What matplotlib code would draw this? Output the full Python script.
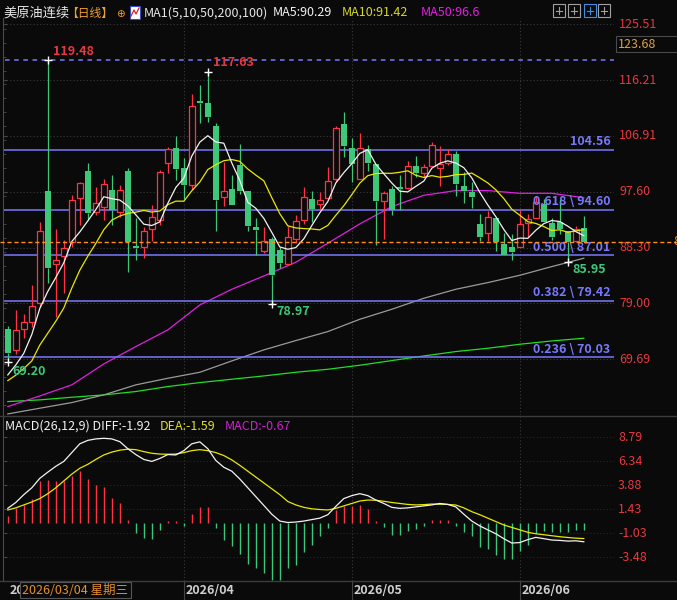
import numpy as np
import pandas as pd
import matplotlib.pyplot as plt
from matplotlib.transforms import blended_transform_factory
from matplotlib.patches import Rectangle
from matplotlib.lines import Line2D

plt.rcParams['font.family'] = ['Noto Sans CJK SC', 'DejaVu Sans']

# --- daily candles (index 0 = 2026/03/02) ---
opens = [74.75, 71.25, 74.69, 75.97, 79.02, 97.73, 85.52, 86.91, 89.24, 96.62,
         101.07, 94.29, 95.13, 97.90, 94.29, 101.07, 88.57, 88.35, 91.35, 92.90,
         102.45, 104.90, 101.57, 98.79, 112.73, 112.45, 108.56, 96.68, 98.07, 102.07,
         97.73, 91.68, 87.79, 89.68, 87.90, 85.57, 89.79, 92.90, 96.35, 95.51,
         96.51, 99.68, 108.89, 104.84, 99.68, 104.73, 102.18, 96.12, 98.07, 98.29,
         98.29, 101.90, 100.79, 101.90, 101.51, 102.45, 103.90, 98.57, 97.62, 92.29,
         90.79, 93.29, 88.90, 88.35, 88.35, 92.35, 93.29, 95.51, 92.46, 92.62,
         91.07, 89.35, 91.63]
highs = [75.25, 77.91, 77.24, 82.07, 92.57, 119.48, 91.40, 89.57, 97.07, 99.29,
         102.34, 98.46, 99.68, 100.40, 98.73, 101.57, 93.18, 91.68, 95.40, 101.23,
         105.01, 106.90, 103.18, 113.89, 115.39, 117.63, 109.12, 102.62, 100.40, 105.56,
         97.73, 93.18, 91.68, 90.13, 88.46, 91.90, 93.74, 98.46, 97.73, 97.51,
         101.79, 108.56, 110.95, 106.51, 107.34, 105.34, 102.18, 97.79, 98.57, 100.40,
         102.73, 103.57, 102.23, 105.90, 105.23, 104.67, 104.45, 100.95, 99.29, 93.96,
         94.46, 93.29, 90.79, 90.57, 94.57, 93.90, 96.90, 96.35, 93.29, 96.35,
         91.07, 91.90, 93.57]
lows = [69.20, 70.52, 73.30, 75.02, 78.47, 82.35, 76.80, 80.69, 88.46, 92.07,
        92.90, 93.74, 92.90, 92.07, 93.46, 84.30, 86.24, 86.52, 89.40, 92.07,
        100.68, 99.57, 96.35, 97.90, 109.01, 109.28, 91.13, 95.29, 95.46, 97.23,
        91.13, 87.07, 87.35, 78.97, 84.85, 85.57, 89.02, 92.24, 92.62, 94.57,
        96.35, 99.29, 103.34, 99.29, 99.68, 101.12, 88.74, 89.74, 93.74, 94.57,
        98.01, 100.12, 100.12, 101.79, 98.62, 102.07, 96.96, 95.79, 94.85, 89.35,
        89.46, 87.79, 87.07, 86.24, 88.35, 90.13, 93.29, 92.62, 89.57, 90.57,
        85.95, 89.24, 89.24]
closes = [70.80, 74.58, 75.86, 78.52, 91.02, 84.96, 86.18, 88.18, 96.18, 99.01,
          94.12, 95.68, 98.85, 94.57, 97.85, 89.30, 88.24, 91.02, 93.46, 100.84,
          104.73, 101.46, 98.79, 111.89, 112.45, 110.12, 96.23, 97.73, 95.46, 97.79,
          91.96, 91.29, 89.35, 83.74, 85.69, 90.02, 92.68, 96.68, 94.79, 96.29,
          99.34, 108.17, 105.29, 102.29, 104.84, 102.45, 96.07, 97.34, 94.57, 98.07,
          101.84, 100.68, 101.68, 105.34, 102.18, 103.84, 98.90, 97.79, 96.79, 90.13,
          93.35, 89.24, 87.07, 87.57, 92.18, 93.12, 95.96, 92.62, 90.13, 91.35,
          89.24, 91.46, 89.24]
# closes just before the visible window (for MA5 / MA10)
pre_closes = [65.5, 64.8, 65.9, 64.6, 65.1, 66.3, 66.1, 62.9, 69.3]

# slow averages read every 4th candle
ma_idx = list(range(0, 73, 4))
ma50 = [61.80, 63.58, 65.42, 68.91, 71.80, 74.58, 78.74, 81.35, 83.57, 85.85,
        89.02, 92.24, 95.13, 97.01, 97.79, 97.79, 97.34, 97.34, 96.60]
ma100 = [60.58, 61.53, 62.47, 63.75, 65.42, 66.52, 67.52, 69.41, 71.25, 72.80,
         74.30, 76.35, 78.02, 79.85, 81.35, 82.46, 83.68, 85.13, 86.52]
ma200 = [62.64, 62.92, 63.36, 63.75, 64.31, 65.14, 65.80, 66.36, 66.91, 67.52,
         68.02, 68.69, 69.47, 70.24, 70.97, 71.52, 72.19, 72.74, 73.19]

# MACD(26,12,9)
diff = [1.50, 2.1, 2.9, 3.6, 4.57, 5.2, 5.8, 6.3, 7.2, 8.1,
        8.45, 8.6, 8.66, 8.6, 8.32, 7.6, 7.0, 6.5, 6.3, 6.6,
        7.0, 6.96, 7.4, 8.1, 8.3, 7.6, 6.4, 5.7, 5.3, 4.5,
        3.6, 2.7, 1.8, 0.9, 0.2, 0.05, 0.1, 0.2, 0.35, 0.5,
        0.85, 1.7, 2.5, 2.8, 3.0, 2.8, 2.35, 2.0, 1.6, 1.5,
        1.55, 1.65, 1.75, 1.85, 2.0, 1.9, 1.65, 0.9, 0.2, -0.3,
        -0.7, -1.1, -1.6, -2.05, -2.0, -1.7, -1.47, -1.6, -1.74, -1.78,
        -1.85, -1.82, -1.92]
dea = [1.33, 1.55, 1.85, 2.15, 2.5, 3.0, 3.6, 4.3, 5.0, 5.6,
       6.0, 6.5, 6.96, 7.25, 7.45, 7.55, 7.5, 7.3, 7.13, 7.05,
       7.03, 7.05, 7.2, 7.4, 7.5, 7.4, 7.2, 6.9, 6.45, 5.9,
       5.3, 4.7, 4.1, 3.5, 2.9, 2.2, 1.85, 1.6, 1.45, 1.38,
       1.33, 1.5, 1.75, 2.0, 2.25, 2.35, 2.33, 2.22, 2.1, 2.0,
       1.9, 1.85, 1.88, 1.94, 1.92, 1.9, 1.84, 1.55, 1.16, 0.85,
       0.5, 0.15, -0.2, -0.45, -0.7, -0.95, -1.1, -1.2, -1.3, -1.4,
       -1.48, -1.55, -1.59]
macd = [0.68, 1.53, 1.88, 2.46, 4.26, 4.37, 4.26, 4.26, 4.84, 5.35,
        4.54, 3.92, 3.65, 2.56, 2.05, 0.34, -1.02, -1.53, -1.64, -0.75,
        0.17, 0.24, -0.34, 0.92, 1.64, 1.60, -0.51, -1.71, -2.39, -3.17,
        -4.16, -4.60, -5.12, -5.80, -5.80, -4.60, -4.26, -2.97, -2.22, -1.36,
        -0.55, 1.36, 1.77, 1.77, 1.88, 1.43, 0.24, -0.44, -1.26, -1.26,
        -0.78, -0.61, -0.34, 0.34, 0.27, 0.34, -0.34, -0.95, -1.36, -2.49,
        -2.66, -3.24, -3.68, -3.68, -2.90, -2.22, -1.02, -0.85, -0.95, -0.95,
        -0.95, -0.75, -0.75]

fib_levels = [104.56, 94.60, 87.01, 79.42, 70.03]
fib_labels = ['104.56', '0.618 \\ 94.60', '0.500 \\ 87.01', '0.382 \\ 79.42', '0.236 \\ 70.03']
price_ticks = [125.51, 116.21, 106.91, 97.60, 88.30, 79.00, 69.69]
macd_ticks = [8.79, 6.34, 3.88, 1.43, -1.03, -3.48]
month_idx = [0, 22, 43, 64]
month_labels = ['2026/03', '2026/04', '2026/05', '2026/06']

# --- colours ---
BG = '#0a0a0a'
RED = '#ff3344'
GREEN = '#3cc878'
FIB = '#7878ff'
AXRED = '#e5383e'
ORANGE = '#ff8c1a'
GRID = '#3a3a3a'

W, H = 677, 600
fig = plt.figure(figsize=(6.77, 6.0), dpi=100, facecolor=BG)


def fx(px):
    return px / W


def fy(py):
    return 1 - py / H


ax = fig.add_axes([fx(2.5), fy(415), fx(614) - fx(2.5), fy(18) - fy(415)], facecolor=BG)
axm = fig.add_axes([fx(2.5), fy(581), fx(614) - fx(2.5), fy(417) - fy(581)], facecolor=BG)

for a in (ax, axm):
    a.set_xlim(-0.6625, 75.775)
    for s in ('top', 'right', 'bottom'):
        a.spines[s].set_visible(False)
    a.spines['left'].set_color('#4a4a4a')
    a.set_xticks([])
    a.tick_params(axis='y', which='both', direction='in', colors='#4a4a4a',
                  labelleft=False, length=3)
    a.tick_params(axis='y', which='minor', length=2)
    for m in month_idx[1:]:
        a.axvline(m, color=GRID, lw=0.8, ls=(0, (1, 2)))

ax.set_ylim(60.4, 126.55)
axm.set_ylim(-5.93, 10.84)
ax.set_yticks(price_ticks)
ax.set_yticks(np.arange(62, 126, 2.325), minor=True)
axm.set_yticks(macd_ticks)

# --- price panel ---
for p in price_ticks:
    ax.axhline(p, color=GRID, lw=0.8, ls=(0, (1, 2)))

x = np.arange(len(closes))
o, h, l, c = map(np.array, (opens, highs, lows, closes))
up = c >= o
lo = np.minimum(o, c)
hi = np.maximum(o, c)
col = np.where(up, RED, GREEN)
ax.vlines(x, l, lo, colors=col, lw=0.9, zorder=3)
ax.vlines(x, hi, h, colors=col, lw=0.9, zorder=3)
hgt = np.maximum(hi - lo, 0.25)
ax.bar(x[~up], hgt[~up], bottom=lo[~up], width=0.8, color=GREEN, linewidth=0, zorder=4)
ax.bar(x[up], hgt[up], bottom=lo[up], width=0.74, facecolor=BG, edgecolor=RED,
       linewidth=0.9, zorder=4)

allc = pd.Series(pre_closes + closes)
ma5 = allc.rolling(5).mean().iloc[len(pre_closes):].values
ma10 = allc.rolling(10).mean().iloc[len(pre_closes):].values
ax.plot(ma_idx, ma200, color='#22dd22', lw=0.9, zorder=2)
ax.plot(ma_idx, ma100, color='#9a9a9a', lw=0.9, zorder=2)
ax.plot(ma_idx, ma50, color='#e020e0', lw=0.9, zorder=2)
ax.plot(x, ma10, color='#e8e800', lw=0.9, zorder=5)
ax.plot(x, ma5, color='#f2f2f2', lw=0.9, zorder=5)

# fibonacci lines
for lev, lab in zip(fib_levels, fib_labels):
    ax.axhline(lev, color=FIB, lw=1.1, zorder=2.5)
    ax.annotate(lab, xy=(75.35, lev), xytext=(0, 8), textcoords='offset pixels',
                ha='right', va='center', color=FIB, fontsize=9, fontweight='bold', zorder=6)
ax.hlines(highs[5], -0.4, 75.775, colors=FIB, lw=1.1, linestyles=(0, (3, 3)), zorder=2.5)

# extreme markers
ext = [(5, highs[5], '119.48', AXRED, 9), (25, highs[25], '117.63', AXRED, 9),
       (33, lows[33], '78.97', GREEN, -8), (0, lows[0], '69.20', GREEN, -9),
       (70, lows[70], '85.95', GREEN, -8)]
for i, v, lab, cc, dy in ext:
    ax.plot(i, v, marker='+', color='white', ms=6, mew=1, zorder=7)
    ax.annotate(lab, xy=(i, v), xytext=(5, dy), textcoords='offset pixels',
                ha='left', va='center', color=cc, fontsize=9, fontweight='bold', zorder=7)

# right axis labels
tr = blended_transform_factory(fig.transFigure, ax.transData)
for p in price_ticks:
    ax.text(fx(619), p, f'{p:.2f}', transform=tr, ha='left', va='center',
            color=AXRED, fontsize=9, clip_on=False)
ax.plot([0, 1], [closes[-1]] * 2, transform=tr, color=ORANGE, lw=1.0,
        ls=(0, (3, 2)), clip_on=False, zorder=6)
ax.text(fx(673), closes[-1], f'{closes[-1]:.2f}', transform=tr, ha='left', va='center',
        color=ORANGE, fontsize=9, clip_on=False)

# --- MACD panel ---
for v in macd_ticks:
    axm.axhline(v, color='#262626', lw=0.8, ls=(0, (1, 2)))
mc = np.array(macd)
axm.vlines(x, 0, mc, colors=np.where(mc >= 0, RED, GREEN), lw=1.0)
axm.plot(x, dea, color='#e8e800', lw=0.9)
axm.plot(x, diff, color='#f2f2f2', lw=0.9)
trm = blended_transform_factory(fig.transFigure, axm.transData)
for v in macd_ticks:
    axm.text(fx(618), v, f'{v:.2f}', transform=trm, ha='left', va='center',
             color=AXRED, fontsize=9, clip_on=False)

# --- panel borders ---
for py in (415.5, 581):
    fig.add_artist(Line2D([0, 1], [fy(py)] * 2, color='#3c3c3c', lw=1))

# --- header ---
fig.text(fx(3), fy(13), '美原油连续', color='#e6e6e6', fontsize=9.5, va='center')
fig.text(fx(66), fy(13), '【日线】', color='#f0a030', fontsize=8.5, va='center')
fig.text(fx(116), fy(14), '⊕', color='#f0a030', fontsize=7.5, va='center',
         family=['DejaVu Sans'])
fig.add_artist(Rectangle((fx(130), fy(19)), fx(10), 13 / H, facecolor='white',
                         edgecolor='#3050c0', lw=0.8))
fig.add_artist(Line2D([fx(131), fx(134), fx(136), fx(139)],
                      [fy(16), fy(10), fy(14), fy(8)], color='#e02020', lw=0.9))
fig.text(fx(144), fy(13), 'MA1(5,10,50,200,100)', color='#e6e6e6', fontsize=9, va='center')
fig.text(fx(273), fy(13), 'MA5:90.29', color='#f2f2f2', fontsize=9, va='center')
fig.text(fx(342), fy(13), 'MA10:91.42', color='#d8d820', fontsize=9, va='center')
fig.text(fx(421), fy(13), 'MA50:96.6', color='#e020e0', fontsize=9, va='center')

# toolbar icons
for k, x0 in enumerate([553, 568, 584, 598]):
    ec = '#3a8ee6' if k == 2 else '#a0a0a0'
    fig.add_artist(Rectangle((fx(x0), fy(17)), fx(12), 13 / H, facecolor='none',
                             edgecolor=ec, lw=0.8))
    fig.add_artist(Line2D([fx(x0 + 3), fx(x0 + 9)], [fy(10.5)] * 2, color=ec, lw=0.8))
    fig.add_artist(Line2D([fx(x0 + 6)] * 2, [fy(7), fy(14)], color=ec, lw=0.8))

# cursor price box
fig.add_artist(Rectangle((fx(615.5), fy(52)), fx(62), 16 / H, facecolor=BG,
                         edgecolor='#4a4a4a', lw=0.8))
fig.text(fx(618), fy(44), '123.68', color='#e0a040', fontsize=9, va='center')

# MACD header
fig.text(fx(5), fy(426), 'MACD(26,12,9) DIFF:-1.92', color='#f0f0f0', fontsize=9, va='center')
fig.text(fx(160), fy(426), 'DEA:-1.59', color='#e0e020', fontsize=9, va='center')
fig.text(fx(225), fy(426), 'MACD:-0.67', color='#d020d0', fontsize=9, va='center')

# --- date strip ---
xt = blended_transform_factory(ax.transData, fig.transFigure)
for m, lab in zip(month_idx, month_labels):
    if m > 0:
        ax.plot([m, m], [fy(581), fy(600)], transform=xt, color='#444444', lw=0.8,
                clip_on=False)
    ax.text(m + 0.2, fy(590), lab, transform=xt, color='#d0d0d0', fontsize=9,
            fontweight='bold', va='center', ha='left', clip_on=False)
fig.add_artist(Rectangle((fx(20), fy(598)), fx(111), 16 / H, facecolor=BG,
                         edgecolor='#555555', lw=0.8, zorder=10))
fig.text(fx(22), fy(590), '2026/03/04 星期三', color='#e8902a', fontsize=9,
         va='center', zorder=11)

fig.savefig('out.png', dpi=100, facecolor=BG)
